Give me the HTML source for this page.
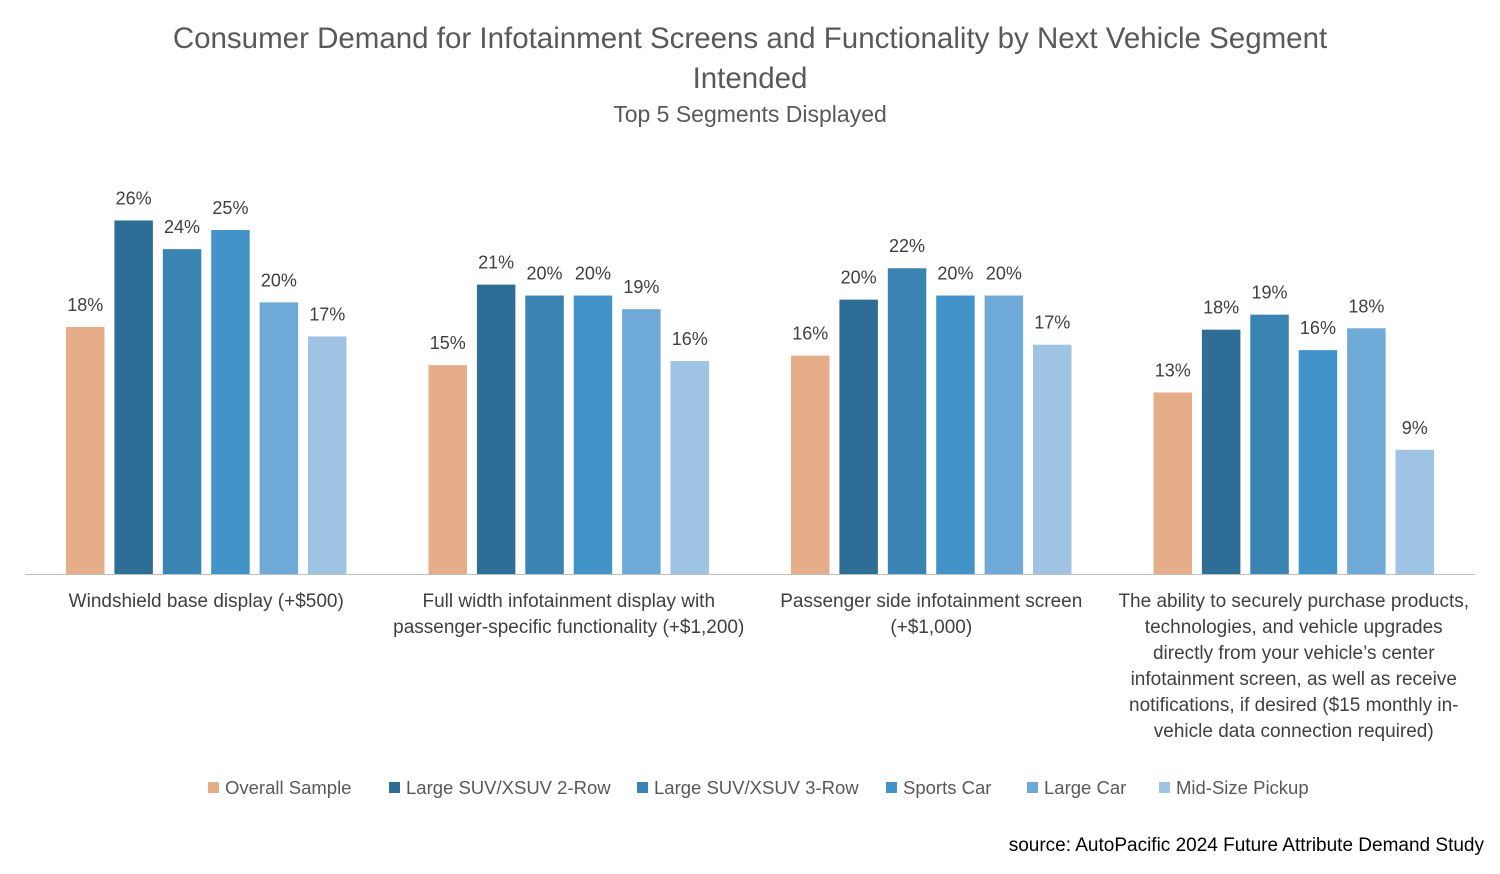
<!DOCTYPE html>
<html><head><meta charset="utf-8"><style>
body{margin:0;background:#fff;width:1500px;height:869px;overflow:hidden;font-family:"Liberation Sans",sans-serif}
svg text{font-family:"Liberation Sans",sans-serif}
</style></head><body>
<svg id="chart" width="1500" height="869" xmlns="http://www.w3.org/2000/svg">
<text x="750" y="48" text-anchor="middle" font-size="29.5" fill="#595959">Consumer Demand for Infotainment Screens and Functionality by Next Vehicle Segment</text>
<text x="750" y="88" text-anchor="middle" font-size="29.5" fill="#595959">Intended</text>
<text x="750" y="122" text-anchor="middle" font-size="23" fill="#595959">Top 5 Segments Displayed</text>
<line x1="25" y1="574.5" x2="1475" y2="574.5" stroke="#bfbfbf" stroke-width="1"/>
<g id="bars"></g>
<g id="xlabels"></g>
<g id="legend"></g>
<text x="1484" y="851" text-anchor="end" font-size="19" fill="#000">source: AutoPacific 2024 Future Attribute Demand Study</text>
</svg>
<script>
const categories=[
 ["Windshield base display (+$500)"],
 ["Full width infotainment display with","passenger-specific functionality (+$1,200)"],
 ["Passenger side infotainment screen","(+$1,000)"],
 ["The ability to securely purchase products,","technologies, and vehicle upgrades","directly from your vehicle’s center","infotainment screen, as well as receive","notifications, if desired ($15 monthly in-","vehicle data connection required)"]
];
const seriesNames=["Overall Sample","Large SUV/XSUV 2-Row","Large SUV/XSUV 3-Row","Sports Car","Large Car","Mid-Size Pickup"];
const overall=[18.1,15.3,16.0,13.3];
const suv2=[25.9,21.2,20.1,17.9];
const suv3=[23.8,20.4,22.4,19.0];
const sports=[25.2,20.4,20.4,16.4];
const largeCar=[19.9,19.4,20.4,18.0];
const pickup=[17.4,15.6,16.8,9.1];
const series=[overall,suv2,suv3,sports,largeCar,pickup];
const colors=["#E6AD89","#2E6E96","#3A84B4","#4294C8","#6EA9D8","#9FC3E2"];
const NS="http://www.w3.org/2000/svg";
const base=574, pxPer=13.65, left=25, groupW=362.5, barW=38.5, pitch=48.4;
const y=v=>base-v*pxPer;
const xBar=(g,s)=>left+g*groupW+groupW/2-(pitch*5+barW)/2+s*pitch;
function mk(t,a,parent){const e=document.createElementNS(NS,t);for(const k in a)e.setAttribute(k,a[k]);parent.appendChild(e);return e;}
const bars=document.getElementById('bars');
series.forEach((vals,s)=>{vals.forEach((v,g)=>{
 const r=mk('rect',{x:xBar(g,s),y:y(v),width:barW,height:base-y(v),fill:colors[s]},bars);
 
 
 const t=mk('text',{x:xBar(g,s)+barW/2,y:y(v)-16,'text-anchor':'middle','font-size':18,fill:'#404040'},bars);
 t.textContent=Math.round(v)+'%';
 
 
});});
const xl=document.getElementById('xlabels');
categories.forEach((lines,g)=>{lines.forEach((ln,i)=>{
 const t=mk('text',{x:left+g*groupW+groupW/2,y:607+i*26,'text-anchor':'middle','font-size':19,fill:'#404040'},xl);
 t.textContent=ln;
 
 
});});
const lg=document.getElementById('legend');
const lx=[208,389,637,886,1027,1159];
seriesNames.forEach((n,s)=>{
 const r=mk('rect',{x:lx[s],y:782,width:11,height:11,fill:colors[s]},lg);
 
 
 const t=mk('text',{x:lx[s]+17,y:794,'font-size':18.5,fill:'#595959'},lg);
 t.textContent=n;
 
 
});
</script>
</body></html>
